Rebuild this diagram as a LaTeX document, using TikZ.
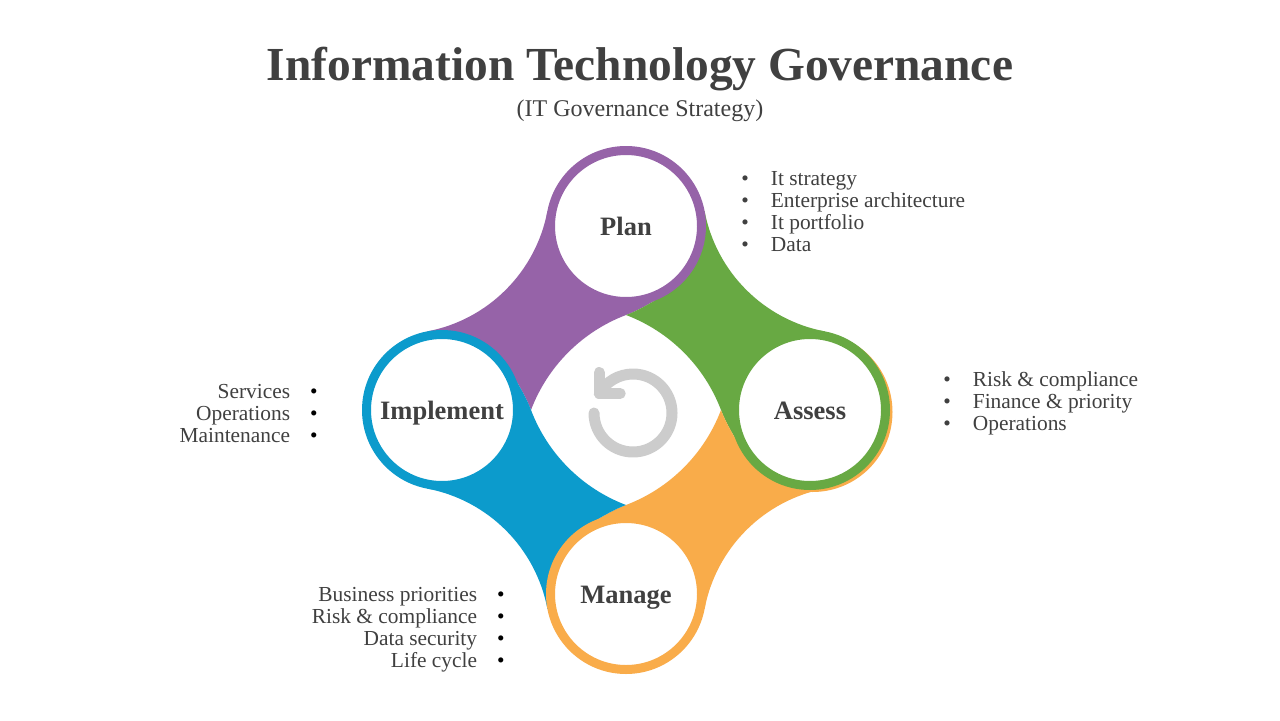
\documentclass[tikz,border=0pt]{standalone}
\usepackage{fontspec}
\setmainfont{Liberation Serif}
\usepackage{tikz}
\usetikzlibrary{positioning}
\definecolor{purp}{RGB}{150,99,168}
\definecolor{grn}{RGB}{104,169,67}
\definecolor{orng}{RGB}{249,172,74}
\definecolor{blu}{RGB}{12,155,204}
\definecolor{txt}{RGB}{64,64,64}
\definecolor{icongray}{RGB}{204,204,204}

\begin{document}
\begin{tikzpicture}[x=0.5pt, y=0.5pt, node distance=92pt,
                    stage/.style={circle, fill=white, line width=4.5pt, minimum size=75.5pt,
                                  inner sep=0pt, text height=9pt, text depth=0pt, text=txt,
                                  font=\fontsize{13.25}{14}\selectfont\bfseries},
                    items/.style={inner sep=0pt, text=txt, font=\fontsize{10.7}{11}\selectfont},
                    icon/.style={draw=icongray, line width=5.5pt, line cap=round, line join=round}]

\fill[white] (0,0) rectangle (1280,720);
\useasboundingbox (0,0) rectangle (1280,720);

\node[anchor=base, text=txt, font=\fontsize{23.7}{26}\selectfont\bfseries] (title) at (640,640)
  {Information Technology Governance};
\node[anchor=base, text=txt, font=\fontsize{12}{14}\selectfont] (subtitle) at (640,604)
  {(IT Governance Strategy)};

\coordinate (ctr) at (626,310);

\foreach \ang/\col in {0/purp, -90/grn, 180/orng, 90/blu}{
  \fill[fill=\col, shift={(ctr)}, rotate=\ang] (0,184) -- (-78.6,198.9)
    arc[start angle=-10.73, end angle=-79.27, radius=151.07]
    -- (-184,0) -- (-119.29,45.31) .. controls (-110.8,30.6) and (-101,15.9) .. (-95,0)
    arc[start angle=159.24, end angle=110.76, radius=163.6]
    .. controls (15.9,101) and (30.6,110.8) .. (45.31,119.29) -- cycle;
}
\fill[orng] ([shift={(186.5,-2)}]ctr) circle (80);

\node[stage, draw=purp] (plan) [above of=ctr] {Plan};
\node[stage, draw=grn] (assess) [right of=ctr] {Assess};
\node[stage, draw=orng] (manage) [below of=ctr] {Manage};
\node[stage, draw=blu] (implement) [left of=ctr] {Implement};

\draw[icon] ([shift={(7,-3)}]ctr) ++(180:39) arc[start angle=180, end angle=510, radius=39] coordinate (tip);
\draw[icon] ([yshift=10.5pt]tip) -- (tip) -- ([xshift=10.5pt]tip);

\node[items, anchor=west] (planlist) at (741,506) {\begin{tabular}{@{}l@{\hspace{11pt}}l@{}}
  \textbullet & It strategy\\ \textbullet & Enterprise architecture\\
  \textbullet & It portfolio\\ \textbullet & Data\end{tabular}};
\node[items, anchor=west] (assesslist) at (943,315.5) {\begin{tabular}{@{}l@{\hspace{11pt}}l@{}}
  \textbullet & Risk \& compliance\\ \textbullet & Finance \& priority\\
  \textbullet & Operations\end{tabular}};
\node[items, anchor=east] (implementlist) at (318,303.5) {\begin{tabular}{@{}r@{\hspace{10pt}}l@{}}
  Services & \textcolor{black}{\textbullet}\\ Operations & \textcolor{black}{\textbullet}\\
  Maintenance & \textcolor{black}{\textbullet}\end{tabular}};
\node[items, anchor=east] (managelist) at (505,90) {\begin{tabular}{@{}r@{\hspace{10pt}}l@{}}
  Business priorities & \textcolor{black}{\textbullet}\\ Risk \& compliance & \textcolor{black}{\textbullet}\\
  Data security & \textcolor{black}{\textbullet}\\ Life cycle & \textcolor{black}{\textbullet}\end{tabular}};
\end{tikzpicture}
\end{document}
